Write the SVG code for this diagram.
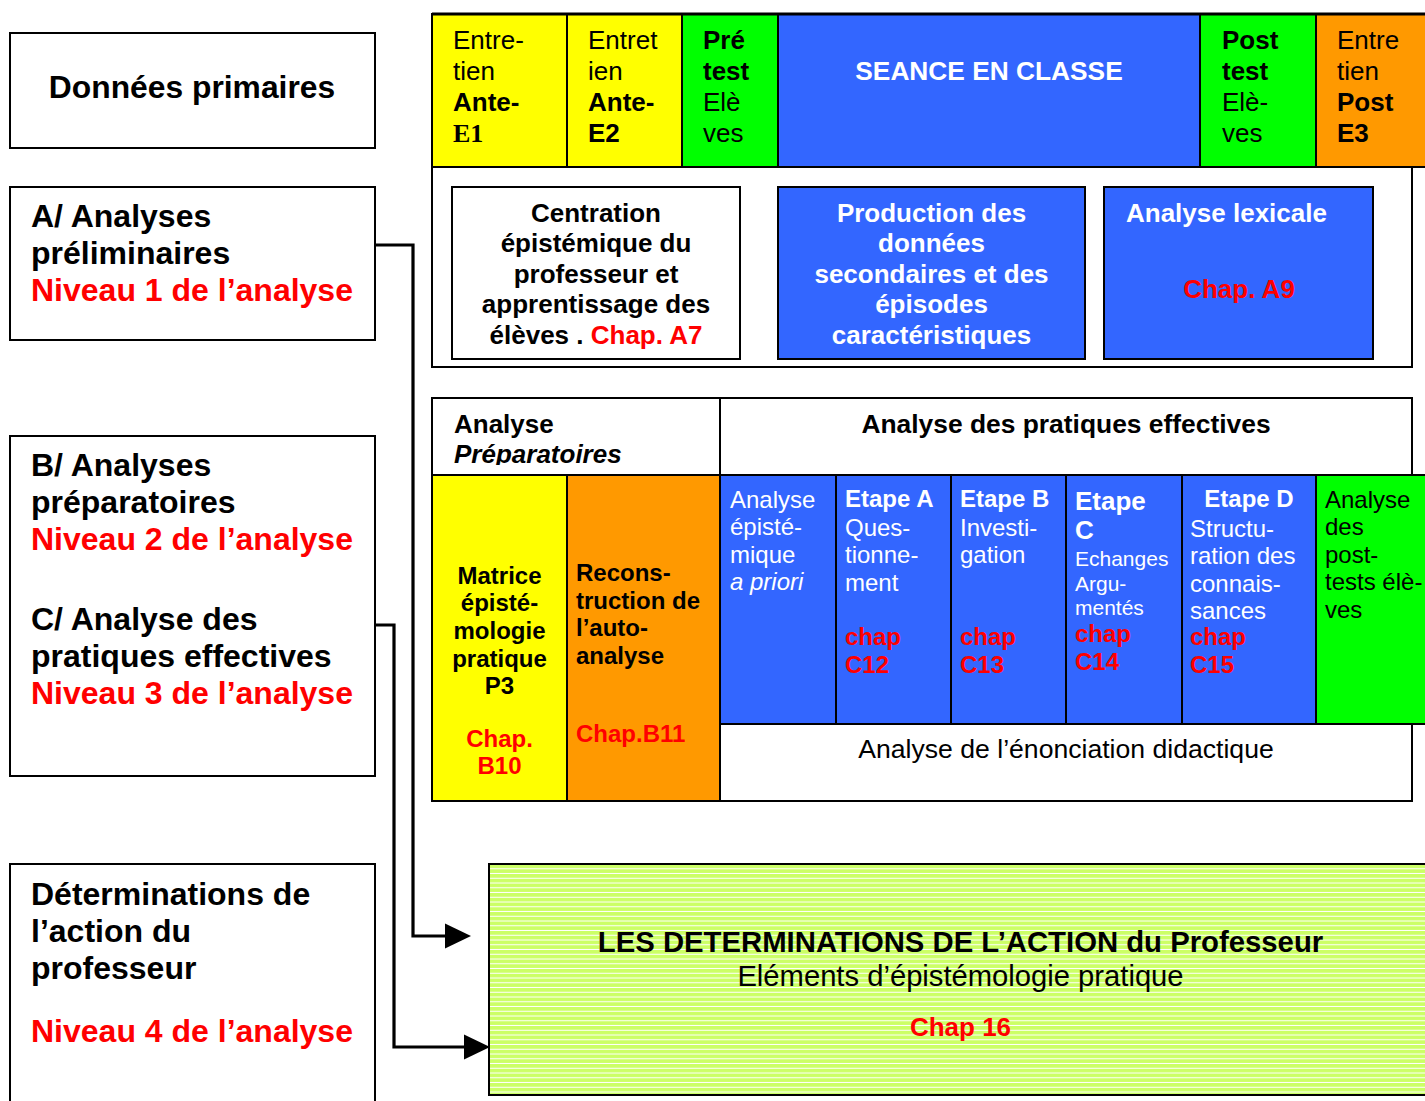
<svg xmlns="http://www.w3.org/2000/svg" width="1425" height="1101" viewBox="0 0 1425 1101">
<style>
text{font-family:"Liberation Sans",Arial,sans-serif;fill:#000}
.b{font-weight:bold}
.w{fill:#fff}
.r{fill:#f00}
.i{font-style:italic}
.c{text-anchor:middle}
.box{fill:#fff;stroke:#000;stroke-width:2}
.cell{stroke:#000;stroke-width:2}
.ye{fill:#ffff00}.gr{fill:#00ff00}.bl{fill:#3366ff}.or{fill:#ff9900}
.conn{fill:none;stroke:#000;stroke-width:3.2}
</style>
<defs>
<pattern id="stripes" width="8" height="4.75" patternUnits="userSpaceOnUse">
<rect width="8" height="4.75" fill="#ccff66"/>
<rect y="3.75" width="8" height="1" fill="#fff"/>
</pattern>
<clipPath id="hdrclip"><rect x="432" y="398" width="288" height="67"/></clipPath>
</defs>
<rect width="1425" height="1101" fill="#fff"/>

<!-- Left column -->
<g id="donnees-primaires">
<rect class="box" x="10" y="33" width="365" height="115"/>
<text class="b c" x="192" y="98" font-size="31.8">Données primaires</text>
</g>
<g id="niveau1">
<rect class="box" x="10" y="187" width="365" height="153"/>
<text class="b" font-size="32"><tspan x="31" y="227">A/ Analyses</tspan><tspan x="31" y="264">préliminaires</tspan><tspan x="31" y="301" class="r">Niveau 1 de l’analyse</tspan></text>
</g>
<g id="niveau2-3">
<rect class="box" x="10" y="436" width="365" height="340"/>
<text class="b" font-size="32"><tspan x="31" y="476">B/ Analyses</tspan><tspan x="31" y="513">préparatoires</tspan><tspan x="31" y="550" class="r">Niveau 2 de l’analyse</tspan><tspan x="31" y="630">C/ Analyse des</tspan><tspan x="31" y="667">pratiques effectives</tspan><tspan x="31" y="704" class="r">Niveau 3 de l’analyse</tspan></text>
</g>
<g id="niveau4">
<rect class="box" x="10" y="864" width="365" height="250"/>
<text class="b" font-size="32"><tspan x="31" y="905">Déterminations de</tspan><tspan x="31" y="942">l’action du</tspan><tspan x="31" y="979">professeur</tspan><tspan x="31" y="1042" class="r">Niveau 4 de l’analyse</tspan></text>
</g>

<!-- Top table row 1 -->
<g id="entretien-ante-e1">
<rect class="cell ye" x="432" y="14" width="135" height="153"/>
<text font-size="26"><tspan x="453" y="49">Entre-</tspan><tspan x="453" y="80">tien</tspan><tspan x="453" y="111" class="b">Ante-</tspan></text>
<text x="453" y="142" font-size="26" class="b" style="font-family:'Liberation Serif','Times New Roman',serif">E1</text>
</g>
<g id="entretien-ante-e2">
<rect class="cell ye" x="567" y="14" width="115" height="153"/>
<text font-size="26"><tspan x="588" y="49">Entret</tspan><tspan x="588" y="80">ien</tspan><tspan x="588" y="111" class="b">Ante-</tspan><tspan x="588" y="142" class="b">E2</tspan></text>
</g>
<g id="pretest">
<rect class="cell gr" x="682" y="14" width="96" height="153"/>
<text font-size="26"><tspan x="703" y="49" class="b">Pré</tspan><tspan x="703" y="80" class="b">test</tspan><tspan x="703" y="111">Elè</tspan><tspan x="703" y="142">ves</tspan></text>
</g>
<g id="seance">
<rect class="cell bl" x="778" y="14" width="422" height="153"/>
<text class="b w c" x="989" y="80" font-size="26.3">SEANCE EN CLASSE</text>
</g>
<g id="posttest">
<rect class="cell gr" x="1200" y="14" width="116" height="153"/>
<text font-size="26"><tspan x="1222" y="49" class="b">Post</tspan><tspan x="1222" y="80" class="b">test</tspan><tspan x="1222" y="111">Elè-</tspan><tspan x="1222" y="142">ves</tspan></text>
</g>
<g id="entretien-post-e3">
<rect class="cell or" x="1316" y="14" width="120" height="153"/>
<text font-size="26"><tspan x="1337" y="49">Entre</tspan><tspan x="1337" y="80">tien</tspan><tspan x="1337" y="111" class="b">Post</tspan><tspan x="1337" y="142" class="b">E3</tspan></text>
</g>
<line x1="432" y1="14" x2="1425" y2="14" stroke="#000" stroke-width="3"/>

<!-- Top table row 2 -->
<rect class="box" x="432" y="167" width="980" height="200"/>
<g id="centration">
<rect class="box" x="452" y="187" width="288" height="172"/>
<text class="b c" font-size="26"><tspan x="596" y="222">Centration</tspan><tspan x="596" y="252">épistémique du</tspan><tspan x="596" y="283">professeur et</tspan><tspan x="596" y="313">apprentissage des</tspan><tspan x="596" y="344">élèves . <tspan class="r">Chap. A7</tspan></tspan></text>
</g>
<g id="production">
<rect class="cell bl" x="778" y="187" width="307" height="172"/>
<text class="b w c" font-size="26"><tspan x="931.5" y="222">Production des</tspan><tspan x="931.5" y="252">données</tspan><tspan x="931.5" y="283">secondaires et des</tspan><tspan x="931.5" y="313">épisodes</tspan><tspan x="931.5" y="344">caractéristiques</tspan></text>
</g>
<g id="analyse-lexicale">
<rect class="cell bl" x="1104" y="187" width="269" height="172"/>
<text class="b w" x="1126" y="222" font-size="26">Analyse lexicale</text>
<text class="b r c" x="1239" y="298" font-size="26">Chap. A9</text>
</g>

<!-- Table 3 -->
<rect class="box" x="432" y="398" width="980" height="403"/>
<line x1="432" y1="475" x2="1412" y2="475" stroke="#000" stroke-width="2"/>
<line x1="720" y1="398" x2="720" y2="801" stroke="#000" stroke-width="2"/>
<g id="analyse-preparatoires">
<text class="b" x="454" y="433" font-size="26">Analyse</text>
<text class="b i" x="454" y="463" font-size="26" clip-path="url(#hdrclip)">Préparatoires</text>
</g>
<g id="analyse-pratiques">
<text class="b c" x="1066" y="433" font-size="26.4">Analyse des pratiques effectives</text>
</g>
<g id="matrice">
<rect class="cell ye" x="432" y="475" width="135" height="326"/>
<text class="b c" font-size="24"><tspan x="499.5" y="584">Matrice</tspan><tspan x="499.5" y="611">épisté-</tspan><tspan x="499.5" y="639">mologie</tspan><tspan x="499.5" y="667">pratique</tspan><tspan x="499.5" y="694">P3</tspan><tspan x="499.5" y="747" class="r">Chap.</tspan><tspan x="499.5" y="774" class="r">B10</tspan></text>
</g>
<g id="reconstruction">
<rect class="cell or" x="567" y="475" width="153" height="326"/>
<text class="b" font-size="24"><tspan x="576" y="581">Recons-</tspan><tspan x="576" y="609">truction de</tspan><tspan x="576" y="636">l’auto-</tspan><tspan x="576" y="664">analyse</tspan><tspan x="576" y="742" class="r">Chap.B11</tspan></text>
</g>
<g id="analyse-apriori">
<rect class="cell bl" x="720" y="475" width="116" height="249"/>
<text class="w" font-size="24"><tspan x="730" y="508">Analyse</tspan><tspan x="730" y="535">épisté-</tspan><tspan x="730" y="563">mique</tspan><tspan x="730" y="590" class="i">a priori</tspan></text>
</g>
<g id="etape-a">
<rect class="cell bl" x="836" y="475" width="115" height="249"/>
<text class="w" font-size="24"><tspan x="845" y="507" class="b">Etape A</tspan><tspan x="845" y="536">Ques-</tspan><tspan x="845" y="563">tionne-</tspan><tspan x="845" y="591">ment</tspan><tspan x="845" y="645" class="b r">chap</tspan><tspan x="845" y="673" class="b r">C12</tspan></text>
</g>
<g id="etape-b">
<rect class="cell bl" x="951" y="475" width="115" height="249"/>
<text class="w" font-size="24"><tspan x="960" y="507" class="b">Etape B</tspan><tspan x="960" y="536">Investi-</tspan><tspan x="960" y="563">gation</tspan><tspan x="960" y="645" class="b r">chap</tspan><tspan x="960" y="673" class="b r">C13</tspan></text>
</g>
<g id="etape-c">
<rect class="cell bl" x="1066" y="475" width="116" height="249"/>
<text class="w b" font-size="26"><tspan x="1075" y="510">Etape</tspan><tspan x="1075" y="539">C</tspan></text>
<text class="w" font-size="21"><tspan x="1075" y="566">Echanges</tspan><tspan x="1075" y="591">Argu-</tspan><tspan x="1075" y="615">mentés</tspan></text>
<text class="b r" font-size="24"><tspan x="1075" y="642">chap</tspan><tspan x="1075" y="670">C14</tspan></text>
</g>
<g id="etape-d">
<rect class="cell bl" x="1182" y="475" width="134" height="249"/>
<text class="w b c" x="1249" y="507" font-size="24">Etape D</text>
<text class="w" font-size="24"><tspan x="1190" y="537">Structu-</tspan><tspan x="1190" y="564">ration des</tspan><tspan x="1190" y="592">connais-</tspan><tspan x="1190" y="619">sances</tspan><tspan x="1190" y="645" class="b r">chap</tspan><tspan x="1190" y="673" class="b r">C15</tspan></text>
</g>
<g id="analyse-posttests">
<rect class="cell gr" x="1316" y="475" width="120" height="249"/>
<text font-size="24"><tspan x="1325" y="508">Analyse</tspan><tspan x="1325" y="535">des</tspan><tspan x="1325" y="563">post-</tspan><tspan x="1325" y="590">tests élè-</tspan><tspan x="1325" y="618">ves</tspan></text>
</g>
<g id="enonciation">
<text class="c" x="1066" y="758" font-size="26.6">Analyse de l’énonciation didactique</text>
</g>

<!-- Bottom box -->
<g id="determinations">
<rect x="489" y="864" width="950" height="231" fill="url(#stripes)" stroke="#000" stroke-width="2"/>
<text class="b c" x="960.5" y="952" font-size="29.3">LES DETERMINATIONS DE L’ACTION du Professeur</text>
<text class="c" x="960.5" y="986" font-size="29.2">Eléments d’épistémologie pratique</text>
<text class="b r c" x="960.5" y="1036" font-size="26">Chap 16</text>
</g>

<!-- Connectors -->
<g id="connectors">
<polyline class="conn" points="375,245 413,245 413,936 446,936"/>
<polygon points="445,923.5 471,936 445,948.5" fill="#000"/>
<polyline class="conn" points="375,625 394,625 394,1047 465,1047"/>
<polygon points="464,1034.5 490,1047 464,1059.5" fill="#000"/>
</g>
</svg>
